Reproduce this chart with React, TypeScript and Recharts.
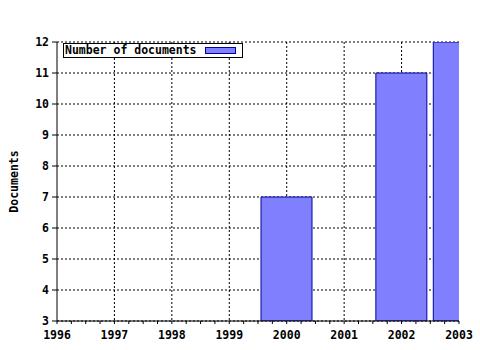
import React from 'react';
import { ComposedChart, Bar, XAxis, YAxis, CartesianGrid, Legend } from 'recharts';

const years = [2000, 2002, 2003];
const documents = [7, 11, 12];
const yearTicks = [1996, 1997, 1998, 1999, 2000, 2001, 2002, 2003];
const yTicks = [3, 4, 5, 6, 7, 8, 9, 10, 11, 12];
const seriesName = 'Number of documents';
const yLabel = 'Documents';

const quarterTicks: number[] = [];
yearTicks.forEach((y, i) => {
  quarterTicks.push(y);
  if (i < yearTicks.length - 1) {
    quarterTicks.push(y + 0.25, y + 0.5, y + 0.75);
  }
});

const data = years.map((year, i) => ({ year, docs: documents[i] }));

const FONT = '"DejaVu Sans Mono", monospace';
const tickStyle = { fontFamily: FONT, fontWeight: 'bold' as const, fontSize: 11.5, fill: '#000' };

const LegendBox = () => (
  <div
    style={{
      boxSizing: 'border-box',
      width: 180,
      height: 15,
      border: '1px solid #000',
      background: '#fff',
      display: 'flex',
      alignItems: 'center',
      fontFamily: FONT,
      fontWeight: 'bold',
      fontSize: 11.5,
      lineHeight: '13px',
      color: '#000',
      paddingLeft: 1,
    }}
  >
    <span style={{ whiteSpace: 'nowrap' }}>{seriesName}</span>
    <span
      style={{
        display: 'inline-block',
        width: 31,
        height: 7,
        marginLeft: 8,
        background: '#8080ff',
        border: '1px solid #0000a0',
        boxSizing: 'border-box',
      }}
    />
  </div>
);

const YLabel = (props: any) => {
  const vb = props.viewBox || { x: 0, y: 42, width: 57, height: 279 };
  const cx = 14;
  const cy = vb.y + vb.height / 2;
  return (
    <text
      x={cx}
      y={cy}
      transform={`rotate(-90 ${cx} ${cy})`}
      textAnchor="middle"
      dominantBaseline="central"
      style={tickStyle}
    >
      {yLabel}
    </text>
  );
};

const scaleOf = (axis: any, v: number) => {
  const s = axis && axis.scale;
  if (!s) return 0;
  if (typeof s === 'function') return s(v);
  if (typeof s.map === 'function') return s.map(v);
  return 0;
};

export default function App() {
  return (
    <div style={{ position: 'absolute', left: 0, top: 0, width: 480, height: 350, background: '#fff' }}>
      <ComposedChart
        width={480}
        height={350}
        data={data}
        margin={{ top: 42, right: 21, bottom: 0, left: 0 }}
      >
        <CartesianGrid
          stroke="#000"
          strokeDasharray="2 2"
          xAxisId="bottom"
          verticalCoordinatesGenerator={({ xAxis }: any) =>
            yearTicks.slice(1, -1).map((y) => scaleOf(xAxis, y))
          }
        />
        <XAxis
          xAxisId="bottom"
          dataKey="year"
          type="number"
          domain={[1996, 2003]}
          ticks={quarterTicks}
          interval={0}
          allowDataOverflow
          height={29}
          tickSize={3}
          tickMargin={7}
          tickFormatter={(v: number) => (Number.isInteger(v) ? String(v) : '')}
          tick={tickStyle}
          axisLine={{ stroke: '#000' }}
          tickLine={{ stroke: '#000' }}
        />
        <XAxis
          xAxisId="top"
          orientation="top"
          dataKey="year"
          type="number"
          domain={[1996, 2003]}
          ticks={quarterTicks}
          interval={0}
          allowDataOverflow
          height={0}
          mirror
          tickSize={3}
          tickFormatter={() => ''}
          axisLine={{ stroke: '#000' }}
          tickLine={{ stroke: '#000' }}
        />
        <YAxis
          type="number"
          domain={[3, 12]}
          ticks={yTicks}
          interval={0}
          allowDataOverflow
          width={57}
          tickSize={5}
          tickMargin={3}
          tick={tickStyle}
          axisLine={{ stroke: '#000' }}
          tickLine={{ stroke: '#000' }}
          label={{ content: YLabel }}
        />
        <Legend
          layout="horizontal"
          verticalAlign="middle"
          align="center"
          content={() => <LegendBox />}
          wrapperStyle={{ position: 'absolute', left: 63, top: 43, width: 180 }}
        />
        <Bar
          xAxisId="bottom"
          dataKey="docs"
          name={seriesName}
          barSize={51}
          fill="#8080ff"
          stroke="#0000a0"
          strokeWidth={1}
          isAnimationActive={false}
        />
      </ComposedChart>
    </div>
  );
}
